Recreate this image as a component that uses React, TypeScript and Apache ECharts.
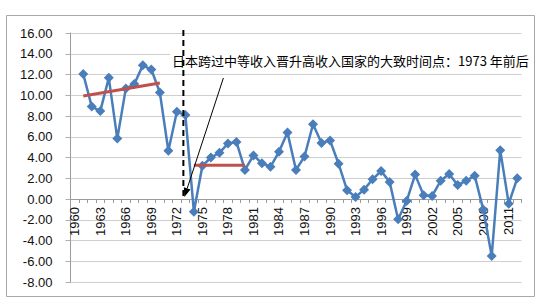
import React, { useEffect, useRef } from "react";
import * as echarts from "echarts";

const years: string[] = [];
for (let y = 1960; y <= 2012; y++) years.push(String(y));

const growth: (number | null)[] = [
  null, 12.04, 8.91, 8.47, 11.68, 5.82, 10.64, 11.08, 12.88, 12.48, 10.26,
  4.65, 8.4, 8.1, -1.22, 3.2, 4.0, 4.45, 5.35, 5.5, 2.8,
  4.2, 3.45, 3.1, 4.55, 6.4, 2.8, 4.1, 7.2, 5.4, 5.65,
  3.4, 0.85, 0.2, 0.9, 1.9, 2.7, 1.65, -1.95, -0.2, 2.35,
  0.35, 0.3, 1.75, 2.4, 1.35, 1.75, 2.25, -1.0, -5.5, 4.7,
  -0.45, 2.0,
];

// trend segments: [category, value] endpoints
const trend1: [string, number][] = [["1961", 9.93], ["1970", 11.18]];
const trend2: [string, number][] = [["1974", 3.25], ["1980", 3.25]];

const yTicks = { min: -8, max: 16, interval: 2 };
const annotation = "日本跨过中等收入晋升高收入国家的大致时间点：1973 年前后";
const markYear = "1973";

export default function App() {
  const ref = useRef<HTMLDivElement>(null);
  useEffect(() => {
    if (!ref.current) return;
    const chart = echarts.init(ref.current, null, { renderer: "svg" });
    const font = "'Liberation Sans', Arial, sans-serif";
    const gridTop = 33;
    const gridBottom = 24;
    const plotH = 306 - gridTop - gridBottom;
    const zeroOffset = -(plotH * (0 - yTicks.min)) / (yTicks.max - yTicks.min);
    chart.setOption({
      animation: false,
      backgroundColor: "#ffffff",
      grid: {
        left: 70.5,
        right: 17.5,
        top: gridTop,
        bottom: gridBottom,
        containLabel: false,
        outerBoundsMode: "none",
      },
      xAxis: {
        type: "category",
        data: years,
        boundaryGap: true,
        position: "bottom",
        offset: zeroOffset,
        axisLine: { show: true, onZero: false, lineStyle: { color: "#9a9a9a", width: 1 } },
        axisTick: { show: true, interval: 0, length: 4, lineStyle: { color: "#9a9a9a" } },
        axisLabel: {
          interval: 2,
          rotate: 90,
          margin: 8,
          fontSize: 13,
          fontFamily: font,
          color: "#111",
        },
        splitLine: { show: false },
      },
      yAxis: {
        type: "value",
        min: yTicks.min,
        max: yTicks.max,
        interval: yTicks.interval,
        axisLine: { show: true, lineStyle: { color: "#9a9a9a" } },
        axisTick: { show: true, length: 5, lineStyle: { color: "#b0b0b0" } },
        axisLabel: {
          margin: 18,
          fontSize: 13,
          fontFamily: font,
          color: "#111",
          formatter: (v: number) => v.toFixed(2),
        },
        splitLine: { show: true, lineStyle: { color: "#cfcfcf", width: 1 } },
      },
      series: [
        {
          type: "line",
          data: growth,
          symbol: "diamond",
          symbolSize: 10,
          showAllSymbol: true,
          lineStyle: { color: "#4a7ebb", width: 2.5 },
          itemStyle: { color: "#4a7ebb" },
          z: 2,
        },
        {
          type: "line",
          data: trend1,
          symbol: "none",
          lineStyle: { color: "#c0504d", width: 3 },
          z: 3,
        },
        {
          type: "line",
          data: trend2,
          symbol: "none",
          lineStyle: { color: "#c0504d", width: 3 },
          z: 3,
        },
      ],
    });

    const p0 = chart.convertToPixel({ xAxisIndex: 0, yAxisIndex: 0 }, [markYear, 0]) as number[];
    const pTop = chart.convertToPixel({ xAxisIndex: 0, yAxisIndex: 0 }, [markYear, 16.3]) as number[];
    const dx = p0[0] - 2;
    const tip = [dx + 1, p0[1] - 2];
    const start = [dx + 40, 78];
    const vx = tip[0] - start[0];
    const vy = tip[1] - start[1];
    const len = Math.sqrt(vx * vx + vy * vy);
    const ux = vx / len, uy = vy / len;
    const bx = tip[0] - 9 * ux, by = tip[1] - 9 * uy;
    const px = -uy, py = ux;

    chart.setOption({
      graphic: [
        {
          type: "rect",
          shape: { x: 6.5, y: 15.5, width: 528, height: 281 },
          style: { fill: "none", stroke: "#a8a8a8", lineWidth: 1 },
          z: 1,
        },
        {
          type: "rect",
          shape: { x: 170, y: 47, width: 355, height: 24 },
          style: { fill: "#ffffff" },
          z: 10,
        },
        {
          type: "text",
          x: 172,
          y: 60,
          style: {
            text: annotation,
            fontSize: 13,
            fontFamily: "'Noto Sans CJK SC', sans-serif",
            fill: "#000",
            verticalAlign: "middle",
            align: "left",
          },
          z: 11,
        },
        {
          type: "line",
          shape: { x1: dx, y1: pTop[1], x2: dx, y2: p0[1] - 1 },
          style: { stroke: "#000", lineWidth: 2, lineDash: [6, 4] },
          z: 12,
        },
        {
          type: "line",
          shape: { x1: start[0], y1: start[1], x2: bx, y2: by },
          style: { stroke: "#000", lineWidth: 1 },
          z: 12,
        },
        {
          type: "polygon",
          shape: {
            points: [
              [tip[0], tip[1]],
              [bx + 3.5 * px, by + 3.5 * py],
              [bx - 3.5 * px, by - 3.5 * py],
            ],
          },
          style: { fill: "#000" },
          z: 12,
        },
      ],
    });

    return () => chart.dispose();
  }, []);
  return (
    <div
      ref={ref}
      style={{ position: "fixed", left: 0, top: 0, width: 539, height: 306 }}
    />
  );
}
